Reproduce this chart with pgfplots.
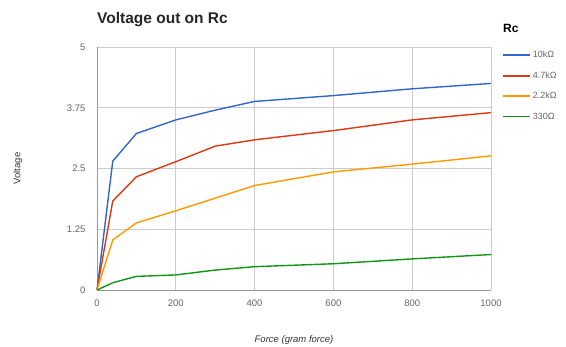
\documentclass[border=0pt]{standalone}
\usepackage{pgfplots}
\pgfplotsset{compat=1.18}
\usepackage{fontspec}
\setmainfont{Liberation Sans}
\definecolor{cBlue}{HTML}{3366CC}
\definecolor{cRed}{HTML}{DC3912}
\definecolor{cOrange}{HTML}{FF9900}
\definecolor{cGreen}{HTML}{109618}
\definecolor{gridc}{HTML}{CCCCCC}
\definecolor{tickc}{HTML}{666666}
\begin{document}
\begin{tikzpicture}
\begin{axis}[
  scale only axis,
  width=394pt, height=243pt,
  xmin=0, xmax=1000, ymin=0, ymax=5,
  xtick={0,200,400,600,800,1000},
  xticklabels={0,200,400,600,800,1000},
  ytick={0,1.25,2.5,3.75,5},
  yticklabels={0,1.25,2.5,3.75,5},
  /pgf/number format/assume math mode=true,
  tick label style={font=\fontsize{9.5}{10}\selectfont, text=tickc},
  major tick length=0pt,
  xticklabel style={yshift=-6pt},
  yticklabel style={xshift=-8pt},
  grid=major,
  grid style={gridc, line width=0.8pt},
  axis line style={draw=none},
  clip=false,
  legend style={at={(axis description cs:1.0,1.0)}, anchor=north west, xshift=9pt, yshift=0pt,
    draw=none, fill=none, font=\fontsize{9}{10}\selectfont,
    row sep=8.5pt, inner sep=2pt, cells={anchor=west, text=tickc}},
  legend image code/.code={\draw[#1, line width=1.6pt] (0pt,0pt) -- (27pt,0pt);},
  every axis plot/.append style={line width=1.4pt},
]
\draw[gray!80, line width=0.9pt] (axis cs:0,0) -- (axis cs:0,5);
\draw[gray!80, line width=0.9pt] (axis cs:0,0) -- (axis cs:1000,0);
\addplot[cBlue] coordinates {(0,0) (40,2.65) (100,3.22) (200,3.5) (300,3.7) (400,3.88) (600,4.0) (800,4.14) (1000,4.25)};
\addlegendentry{10kΩ}
\addplot[cRed] coordinates {(0,0) (40,1.83) (100,2.33) (200,2.64) (300,2.96) (400,3.09) (600,3.28) (800,3.5) (1000,3.65)};
\addlegendentry{4.7kΩ}
\addplot[cOrange] coordinates {(0,0) (40,1.03) (100,1.38) (200,1.63) (300,1.89) (400,2.15) (600,2.43) (800,2.59) (1000,2.76)};
\addlegendentry{2.2kΩ}
\addplot[cGreen] coordinates {(0,0) (40,0.15) (100,0.28) (200,0.31) (300,0.41) (400,0.48) (600,0.54) (800,0.64) (1000,0.73)};
\addlegendentry{330Ω}
\end{axis}
\node[anchor=west, inner sep=0pt, font=\bfseries\fontsize{15.5}{16}\selectfont, text=black!85] at ([yshift=27pt]current axis.north west) {Voltage out on Rc};
\node[anchor=west, inner sep=0pt, font=\bfseries\fontsize{12}{13}\selectfont] at ([xshift=12pt,yshift=19pt]current axis.north east) {Rc};
\node[rotate=90, font=\fontsize{9.5}{10}\selectfont, text=black!80] at ([xshift=-79pt]current axis.west) {Voltage};
\node[font=\itshape\fontsize{9.5}{10}\selectfont, text=black!80] at ([yshift=-50pt]current axis.south) {Force (gram force)};
\pgfresetboundingbox
\useasboundingbox ([xshift=-97pt,yshift=-57pt]current axis.south west) rectangle ([xshift=75pt,yshift=47pt]current axis.north east);
\end{tikzpicture}
\end{document}
